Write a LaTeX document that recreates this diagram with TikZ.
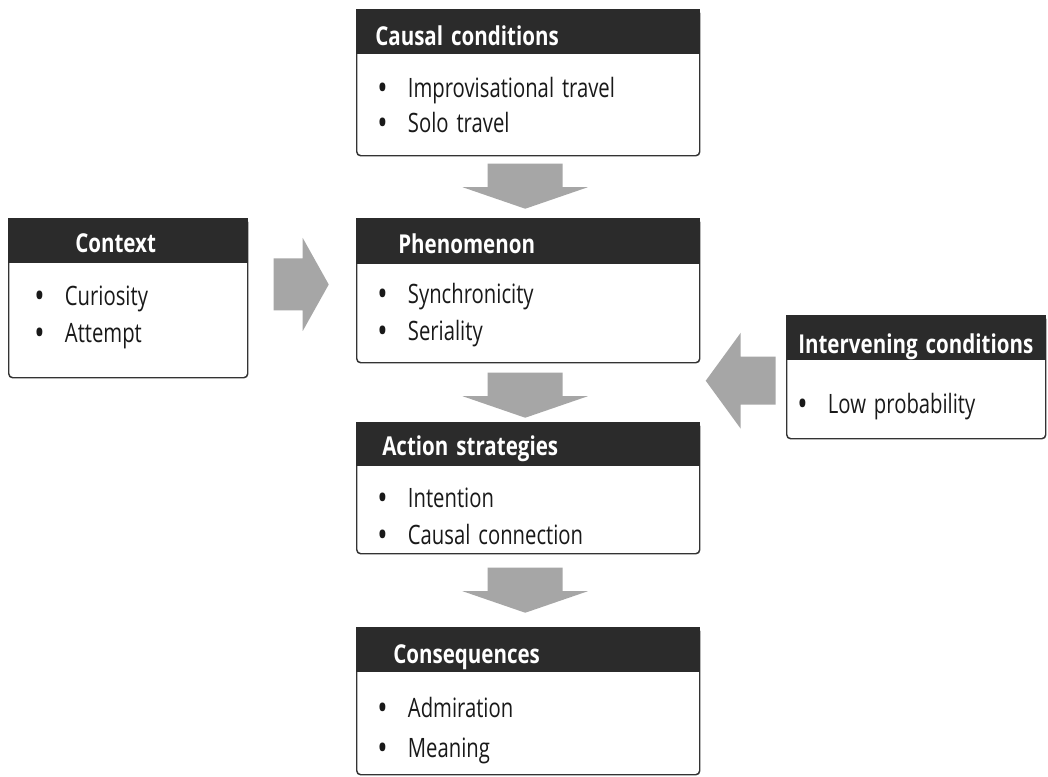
\documentclass[tikz,border=0pt]{standalone}
\usepackage{fontspec}
\usepackage{graphicx}
\setmainfont{Open Sans}[FakeStretch=0.76, WordSpace=1.5]
\newfontfamily\hdfont{Open Sans}[FakeStretch=0.79, WordSpace=1.5]
\usetikzlibrary{calc}
\definecolor{hdfill}{HTML}{2B2B2B}
\definecolor{arrfill}{HTML}{A6A6A6}
\definecolor{framecol}{HTML}{333333}
\newcommand\bul{\makebox[23pt][l]{\raisebox{-0.12em}{\scalebox{1.35}{•}}}}
\tikzset{
  frame/.style={draw=framecol, line width=1.1pt, rounded corners=3pt, fill=white, inner sep=0pt, anchor=north west},
  hdtext/.style={text=white, font=\hdfont\bfseries\fontsize{19.5pt}{22pt}\selectfont, inner sep=0pt, anchor=base west},
  itemtext/.style={text=black!90, font=\fontsize{20pt}{23pt}\selectfont, inner sep=0pt, anchor=base west},
  arrfillst/.style={fill=arrfill, draw=none},
  downarr/.pic={\fill[arrfillst] (-37.5,-22.5) -- (37.5,-22.5) -- (37.5,1) -- (62.5,1) -- (0,22.5) -- (-62.5,1) -- (-37.5,1) -- cycle;},
  rightarr/.pic={\fill[arrfillst] (-27.5,-26) -- (1.5,-26) -- (1.5,-46.5) -- (27.5,0) -- (1.5,46.5) -- (1.5,26) -- (-27.5,26) -- cycle;},
  leftarr/.pic={\fill[arrfillst] (35,-24) -- (0,-24) -- (0,-48) -- (-35,0) -- (0,48) -- (0,24) -- (35,24) -- cycle;}
}
\begin{document}
\begin{tikzpicture}[x=0.75pt,y=-0.75pt]
\useasboundingbox[fill=white] (0,0) rectangle (1048,776);

% Causal conditions
\node[frame, minimum width=257.25pt, minimum height=109.5pt] (causal) at (356,9) {};
\fill[hdfill] (causal.north west) rectangle ($(causal.north east)+(0,45)$);
\node[hdtext] (causal-h) at (375,45) {Causal conditions};
\node[itemtext] (causal-1) at (377,97) {\bul Improvisational travel};
\node[itemtext] (causal-2) at (377,132) {\bul Solo travel};

% Phenomenon
\node[frame, minimum width=257.25pt, minimum height=108pt] (phen) at (356,218) {};
\fill[hdfill] (phen.north west) rectangle ($(phen.north east)+(0,46)$);
\node[hdtext] (phen-h) at (398,253) {Phenomenon};
\node[itemtext] (phen-1) at (377,303) {\bul Synchronicity};
\node[itemtext] (phen-2) at (377,340) {\bul Seriality};

% Action strategies
\node[frame, minimum width=257.25pt, minimum height=98.25pt] (action) at (356,422) {};
\fill[hdfill] (action.north west) rectangle ($(action.north east)+(0,44)$);
\node[hdtext] (action-h) at (382,455) {Action strategies};
\node[itemtext] (action-1) at (377,507) {\bul Intention};
\node[itemtext] (action-2) at (377,544) {\bul Causal connection};

% Consequences
\node[frame, minimum width=257.25pt, minimum height=110.25pt] (conseq) at (356,627) {};
\fill[hdfill] (conseq.north west) rectangle ($(conseq.north east)+(0,45)$);
\node[hdtext] (conseq-h) at (393,663) {Consequences};
\node[itemtext] (conseq-1) at (377,717) {\bul Admiration};
\node[itemtext] (conseq-2) at (377,757) {\bul Meaning};

% Context
\node[frame, minimum width=179.25pt, minimum height=119.25pt] (context) at (8,218) {};
\fill[hdfill] (context.north west) rectangle ($(context.north east)+(0,45)$);
\node[hdtext] (context-h) at (75,252) {Context};
\node[itemtext] (context-1) at (34,305) {\bul Curiosity};
\node[itemtext] (context-2) at (34,342) {\bul Attempt};

% Intervening conditions
\node[frame, minimum width=194.25pt, minimum height=92.25pt] (interv) at (786,315) {};
\fill[hdfill] (interv.north west) rectangle ($(interv.north east)+(0,45)$);
\node[hdtext] (interv-h) at (798,353) {Intervening conditions};
\node[itemtext] (interv-1) at (797,413) {\bul Low probability};

% Block arrows (connectors)
\coordinate (a1) at ($(causal.south)!0.5!(phen.north)+(-3,-1)$);
\coordinate (a2) at ($(phen.south)!0.5!(action.north)+(-3,2.5)$);
\coordinate (a3) at ($(action.south)!0.5!(conseq.north)+(-3,-0.5)$);
\pic at (a1) {downarr};
\pic at (a2) {downarr};
\pic at (a3) {downarr};
\coordinate (ra) at ($(context.east)!0.5!(phen.west)+(-1,-10)$);
\pic at (ra) {rightarr};
\coordinate (la) at ($(phen.east |- interv.west)!0.5!(interv.west)+(-2.5,3.5)$);
\pic at (la) {leftarr};
\end{tikzpicture}
\end{document}
